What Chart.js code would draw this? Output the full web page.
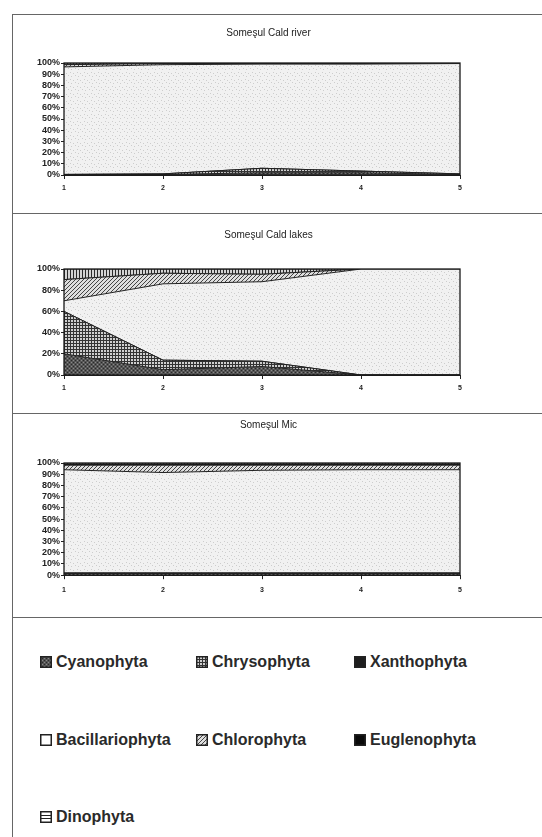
<!DOCTYPE html>
<html>
<head>
<meta charset="utf-8">
<script src="https://cdn.jsdelivr.net/npm/chart.js@4/dist/chart.umd.min.js"></script>
<style>
  body { margin: 0; background: #fff; font-family: "Liberation Sans", Arial, sans-serif; }
  #page { position: relative; width: 542px; height: 837px; overflow: hidden; }
  .hline { position: absolute; left: 12px; width: 540px; height: 1px; background: #666; }
  .vline { position: absolute; left: 12px; top: 14px; width: 1px; height: 830px; background: #666; }
  canvas.chart { position: absolute; left: 13px; }
  .leg { position: absolute; font-size: 16px; font-weight: bold; color: #2a2a2a; white-space: nowrap; line-height: 18px; }
  .leg canvas { vertical-align: -1px; margin-right: 4px; }
</style>
</head>
<body>
<div id="page">
  <div class="hline" style="top:14px"></div>
  <div class="hline" style="top:213px"></div>
  <div class="hline" style="top:413px"></div>
  <div class="hline" style="top:617px"></div>
  <div class="vline"></div>
  <canvas class="chart" id="c1" width="529" height="198" style="top:15px"></canvas>
  <canvas class="chart" id="c2" width="529" height="199" style="top:214px"></canvas>
  <canvas class="chart" id="c3" width="529" height="203" style="top:414px"></canvas>
  <div id="legend"></div>
</div>
<script>
const samples = ['1', '2', '3', '4', '5'];
const groups = ['Cyanophyta', 'Chrysophyta', 'Xanthophyta', 'Bacillariophyta', 'Chlorophyta', 'Euglenophyta', 'Dinophyta'];

// percentages per group, in the order of `groups`
const caldRiver = [
  [0.5, 0.5, 2, 2, 0.5],
  [0, 0.5, 4, 1.5, 0.5],
  [0, 0, 0, 0, 0],
  [96, 97.5, 93, 95.5, 98.5],
  [2, 1, 0.5, 0.5, 0.3],
  [0, 0, 0, 0, 0],
  [1.5, 0.5, 0.5, 0.5, 0.2]
];
const caldLakes = [
  [20, 5, 8, 0, 0],
  [40, 9, 5, 0, 0],
  [0, 0, 0, 0, 0],
  [10, 72, 75, 100, 100],
  [20, 10, 7, 0, 0],
  [0, 0, 0, 0, 0],
  [10, 4, 5, 0, 0]
];
const somesMic = [
  [1.5, 1.5, 1.5, 1.5, 1.5],
  [0.5, 0.5, 0.5, 0.5, 0.5],
  [0, 0, 0, 0, 0],
  [92, 89.5, 91.5, 92, 92],
  [4, 6.5, 4.5, 4, 4],
  [1, 1, 1, 1, 1],
  [1, 1, 1, 1, 1]
];

// grey-scale fill patterns like the old printed chart
function tile(w, h, draw) {
  const c = document.createElement('canvas');
  c.width = w; c.height = h;
  draw(c.getContext('2d'));
  return c;
}
const tiles = {
  Cyanophyta: tile(4, 4, g => {
    g.fillStyle = '#555'; g.fillRect(0, 0, 4, 4);
    g.fillStyle = '#2a2a2a'; g.fillRect(0, 0, 1, 1); g.fillRect(2, 2, 1, 1);
    g.fillStyle = '#888'; g.fillRect(2, 0, 1, 1); g.fillRect(0, 2, 1, 1);
  }),
  Chrysophyta: tile(3, 3, g => {
    g.fillStyle = '#cfcfcf'; g.fillRect(0, 0, 3, 3);
    g.fillStyle = '#333'; g.fillRect(0, 0, 3, 1); g.fillRect(0, 0, 1, 3);
  }),
  Xanthophyta: tile(2, 2, g => { g.fillStyle = '#1e1e1e'; g.fillRect(0, 0, 2, 2); }),
  Bacillariophyta: tile(7, 7, g => {
    g.fillStyle = '#f1f1f1'; g.fillRect(0, 0, 7, 7);
    g.fillStyle = '#cdcdcd';
    g.fillRect(1, 1, 1, 1); g.fillRect(4, 2, 1, 1); g.fillRect(2, 5, 1, 1); g.fillRect(6, 4, 1, 1);
  }),
  Chlorophyta: tile(4, 4, g => {
    g.fillStyle = '#dedede'; g.fillRect(0, 0, 4, 4);
    g.fillStyle = '#444';
    for (let i = 0; i < 4; i++) g.fillRect(3 - i, i, 1, 1);
  }),
  Euglenophyta: tile(2, 2, g => { g.fillStyle = '#0a0a0a'; g.fillRect(0, 0, 2, 2); }),
  Dinophyta: tile(3, 1, g => {
    g.fillStyle = '#d4d4d4'; g.fillRect(0, 0, 3, 1);
    g.fillStyle = '#2a2a2a'; g.fillRect(0, 0, 1, 1);
  })
};

const frame = {
  id: 'frame',
  afterDatasetsDraw(chart) {
    const a = chart.chartArea, g = chart.ctx;
    g.save();
    g.strokeStyle = '#1a1a1a';
    g.lineWidth = 1.3;
    g.strokeRect(a.left, a.top, a.right - a.left, a.bottom - a.top);
    g.restore();
  }
};

function makeChart(id, title, rows, step, pad) {
  const ctx = document.getElementById(id).getContext('2d');
  const datasets = groups.map((name, i) => ({
    label: name,
    data: rows[i],
    backgroundColor: ctx.createPattern(tiles[name], 'repeat'),
    borderColor: '#222',
    borderWidth: 1,
    pointRadius: 0,
    tension: 0,
    fill: i === 0 ? 'origin' : '-1'
  }));
  return new Chart(ctx, {
    type: 'line',
    data: { labels: samples, datasets: datasets },
    plugins: [frame],
    options: {
      responsive: false,
      animation: false,
      layout: { padding: { left: 0, right: 18, top: 0, bottom: pad.bottom } },
      plugins: {
        legend: { display: false },
        tooltip: { enabled: false },
        title: {
          display: true,
          text: title,
          color: '#222',
          font: { family: 'Liberation Sans', size: 10, weight: 'normal' },
          padding: { top: pad.titleTop, bottom: pad.titleBottom }
        }
      },
      scales: {
        x: {
          offset: false,
          grid: { drawOnChartArea: false, tickLength: 4, color: '#222' },
          border: { color: '#222', width: 1 },
          ticks: { color: '#222', padding: pad.xPad, font: { family: 'Liberation Sans', size: 7, weight: 'bold' } }
        },
        y: {
          stacked: true,
          min: 0,
          max: 100,
          afterFit: s => { s.width = 51; },
          grid: { drawOnChartArea: false, tickLength: 3, color: '#222' },
          border: { color: '#222', width: 1 },
          ticks: {
            stepSize: step,
            autoSkip: false,
            color: '#222',
            padding: 1,
            font: { family: 'Liberation Sans', size: 9, weight: 'bold', lineHeight: 1 },
            callback: v => v + '%'
          }
        },
        // empty right-hand strip, keeps the title centred on the whole panel
        spacer: {
          position: 'right',
          afterFit: s => { s.width = 64; },
          grid: { display: false },
          border: { display: false },
          ticks: { display: false }
        }
      }
    }
  });
}

makeChart('c1', 'Someşul Cald river', caldRiver, 10, { titleTop: 12, titleBottom: 24, xPad: 5, bottom: 15.6 });
makeChart('c2', 'Someşul Cald lakes', caldLakes, 20, { titleTop: 15, titleBottom: 28, xPad: 5, bottom: 15.6 });
makeChart('c3', 'Someşul Mic', somesMic, 10, { titleTop: 5, titleBottom: 32, xPad: 6.8, bottom: 15.8 });

// legend panel, three columns
const legCols = [40, 196, 354];
const legRows = [662, 740, 817];
const legend = document.getElementById('legend');
groups.forEach((name, i) => {
  const item = document.createElement('div');
  item.className = 'leg';
  item.style.left = legCols[i % 3] + 'px';
  item.style.top = (legRows[Math.floor(i / 3)] - 9) + 'px';
  const sw = document.createElement('canvas');
  sw.width = 12; sw.height = 12;
  const g = sw.getContext('2d');
  if (name === 'Dinophyta') {
    g.fillStyle = '#fff'; g.fillRect(0, 0, 12, 12);
    g.fillStyle = '#222'; g.fillRect(0, 4, 12, 1); g.fillRect(0, 7, 12, 1);
  } else if (name === 'Bacillariophyta') {
    g.fillStyle = '#fff'; g.fillRect(0, 0, 12, 12);
  } else {
    g.fillStyle = g.createPattern(tiles[name], 'repeat'); g.fillRect(0, 0, 12, 12);
  }
  g.strokeStyle = '#222'; g.lineWidth = 1.5; g.strokeRect(0.75, 0.75, 10.5, 10.5);
  item.appendChild(sw);
  item.appendChild(document.createTextNode(name));
  legend.appendChild(item);
});
</script>
</body>
</html>
